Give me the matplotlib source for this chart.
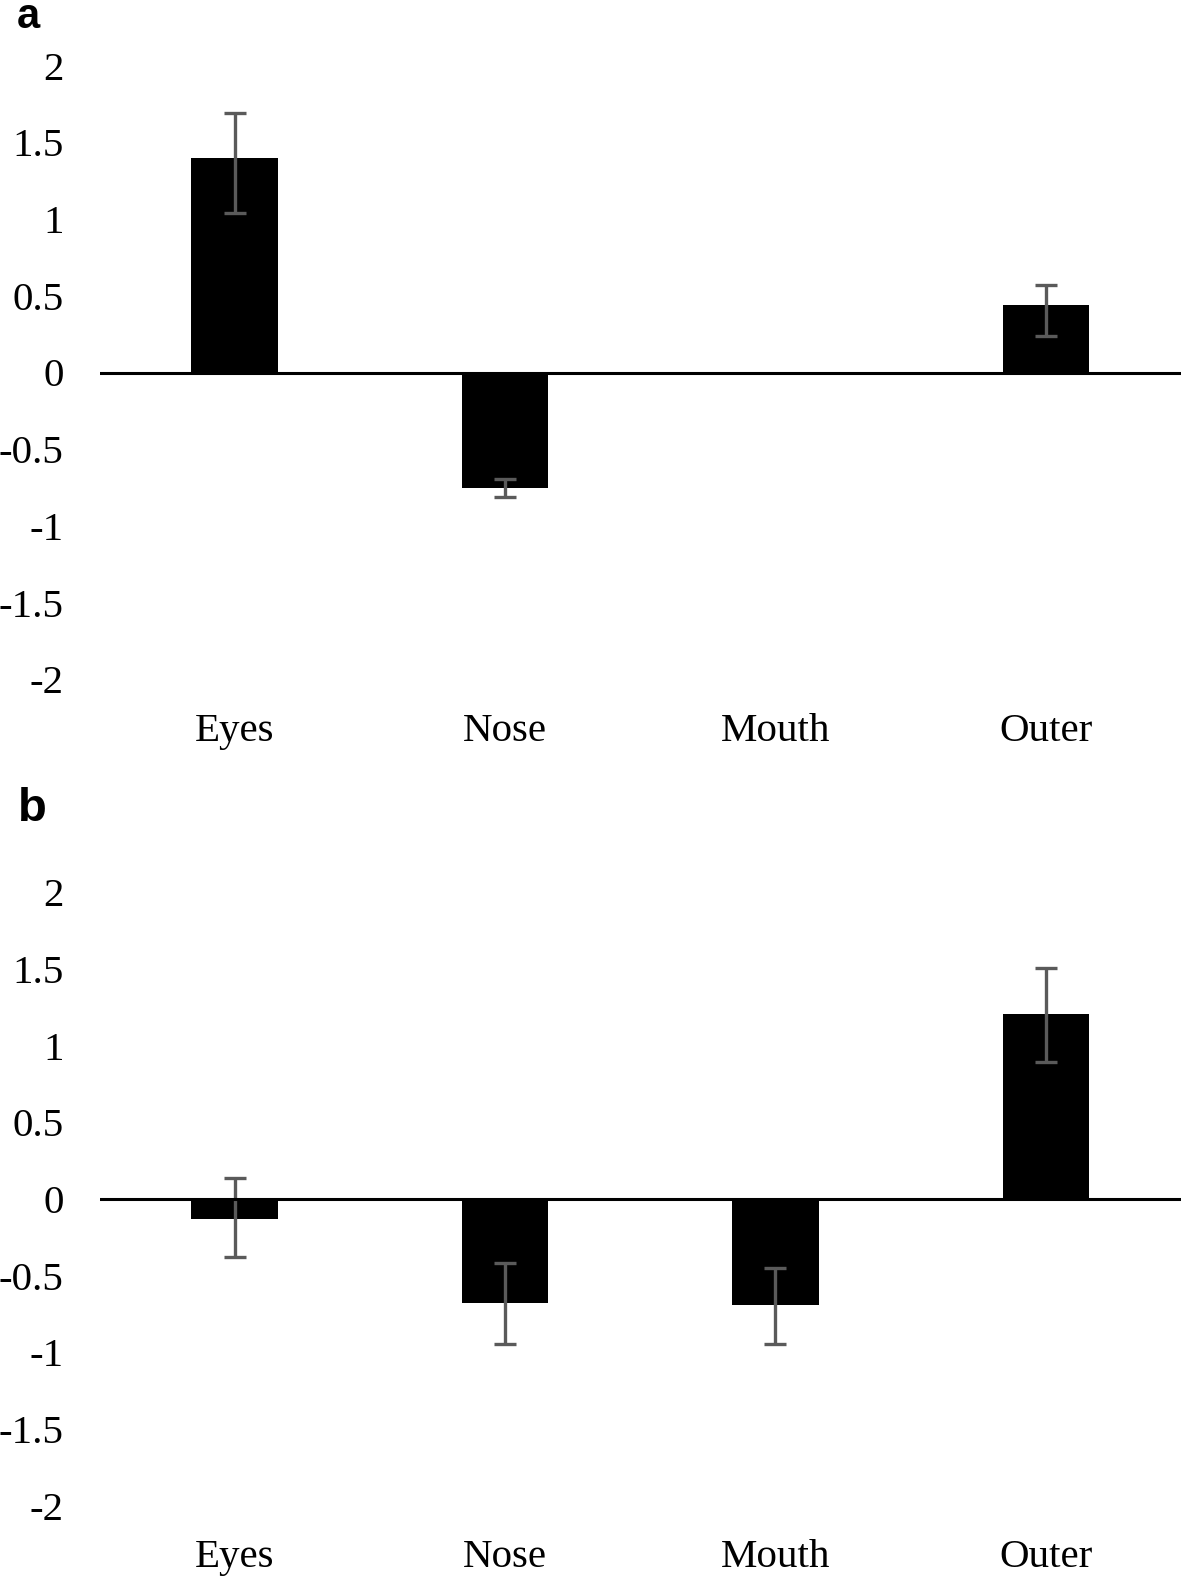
import matplotlib.pyplot as plt

# Data
categories = ["Eyes", "Nose", "Mouth", "Outer"]
means_a = [1.40, -0.75, 0.0, 0.44]
err_lo_a = [0.36, 0.059, 0.0, 0.20]
err_hi_a = [0.29, 0.057, 0.0, 0.13]
means_b = [-0.13, -0.68, -0.69, 1.205]
err_lo_b = [0.246, 0.268, 0.256, 0.313]
err_hi_b = [0.265, 0.26, 0.24, 0.30]
yticks = [2, 1.5, 1, 0.5, 0, -0.5, -1, -1.5, -2]
ytick_labels = ["2", "1.5", "1", "0.5", "0", "-0.5", "-1", "-1.5", "-2"]

W, H = 1181, 1577
fig = plt.figure(figsize=(W / 100, H / 100), dpi=100)

serif = ["Liberation Serif", "DejaVu Serif"]
sans = ["Liberation Sans", "DejaVu Sans"]


def panel(top_px, bottom_px, means, err_lo, err_hi):
    left_px, right_px = 99.5, 1181
    ax = fig.add_axes([left_px / W, 1 - bottom_px / H,
                       (right_px - left_px) / W, (bottom_px - top_px) / H])
    x = list(range(len(categories)))
    ax.bar(x, means, width=0.32, color="black", linewidth=0, zorder=2)
    # skip error bars for categories without a value
    keep = [i for i in x if err_lo[i] > 0 or err_hi[i] > 0]
    ax.errorbar([x[i] for i in keep], [means[i] for i in keep],
                yerr=[[err_lo[i] for i in keep], [err_hi[i] for i in keep]],
                fmt="none", ecolor="#5a5a5a",
                elinewidth=2.4, capsize=8, capthick=2.4, zorder=3)
    ax.axhline(0, color="black", lw=2.2, zorder=4)
    ax.set_xlim(-0.5, 3.5)
    ax.set_ylim(-2, 2)
    ax.set_yticks(yticks)
    ax.set_yticklabels(ytick_labels, fontfamily=serif, fontsize=29.5)
    ax.set_xticks(x)
    ax.set_xticklabels(categories, fontfamily=serif, fontsize=29.5)
    ax.tick_params(axis="y", length=0, pad=26)
    ax.tick_params(axis="x", length=0, pad=24)
    for s in ax.spines.values():
        s.set_visible(False)
    return ax


panel(65.7, 679.3, means_a, err_lo_a, err_hi_a)
panel(892.2, 1505.8, means_b, err_lo_b, err_hi_b)

fig.text(17 / W, 1 - 28 / H, "a", fontfamily=sans, fontweight="bold",
         fontsize=30, ha="left", va="baseline")
fig.text(18 / W, 1 - 821 / H, "b", fontfamily=sans, fontweight="bold",
         fontsize=34, ha="left", va="baseline")

fig.savefig("out.png", dpi=100)
